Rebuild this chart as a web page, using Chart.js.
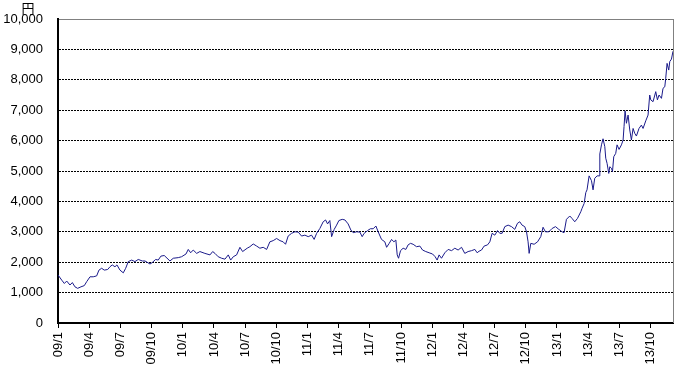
<!DOCTYPE html>
<html>
<head>
<meta charset="utf-8">
<script src="https://cdn.jsdelivr.net/npm/chart.js@4"></script>
<style>
  html, body { margin: 0; padding: 0; background: #fff; overflow: hidden; }
</style>
</head>
<body>
<canvas id="price" width="690" height="370"></canvas>
<script>
// months since 2009/1 (x) and closing price in yen (y)
var months = [0.0, 0.36, 0.61, 0.84, 1.15, 1.38, 1.63, 1.89, 2.21, 2.53, 2.76, 3.08, 3.39, 3.72, 3.94, 4.20, 4.45, 4.78, 5.00, 5.22,
	5.48, 5.67, 5.96, 6.28, 6.51, 6.76, 7.09, 7.40, 7.72, 8.11, 8.37, 8.85, 9.07, 9.39, 9.64, 9.90, 10.22, 10.77, 11.09, 11.57,
	11.89, 12.31, 12.53, 12.76, 13.01, 13.34, 13.65, 14.13, 14.62, 14.88, 15.10, 15.41, 15.74, 16.06, 16.38, 16.61, 16.86, 17.18, 17.50, 17.76,
	18.20, 18.46, 18.78, 19.11, 19.42, 19.74, 20.07, 20.38, 20.70, 21.03, 21.35, 21.66, 21.89, 22.14, 22.47, 22.79, 23.11, 23.43, 23.75, 24.07,
	24.39, 24.64, 24.88, 25.19, 25.51, 25.74, 25.93, 26.15, 26.32, 26.57, 26.80, 27.02, 27.34, 27.60, 27.91, 28.17, 28.39, 28.72, 29.04, 29.26,
	29.45, 29.78, 30.05, 30.32, 30.58, 30.80, 31.12, 31.44, 31.61, 31.86, 32.09, 32.31, 32.50, 32.63, 32.76, 32.95, 33.20, 33.46, 33.68, 33.91,
	34.16, 34.49, 34.81, 35.07, 35.38, 35.70, 36.03, 36.28, 36.47, 36.66, 36.89, 37.21, 37.53, 37.86, 38.17, 38.49, 38.82, 39.13, 39.45, 39.78,
	40.10, 40.32, 40.50, 40.74, 40.99, 41.32, 41.54, 41.76, 42.02, 42.28, 42.50, 42.72, 42.98, 43.30, 43.63, 43.94, 44.20, 44.42, 44.64, 44.90,
	45.07, 45.22, 45.32, 45.48, 45.80, 46.13, 46.44, 46.66, 46.89, 47.21, 47.53, 47.86, 48.17, 48.49, 48.68, 48.91, 49.23, 49.45, 49.71, 49.97,
	50.29, 50.41, 50.61, 50.77, 50.89, 51.09, 51.32, 51.47, 51.63, 51.86, 52.05, 52.12, 52.28, 52.43, 52.60, 52.69, 52.82, 52.98, 53.08, 53.24,
	53.34, 53.46, 53.65, 53.78, 53.97, 54.20, 54.36, 54.45, 54.55, 54.68, 54.84, 55.00, 55.16, 55.32, 55.48, 55.64, 55.89, 56.12, 56.28, 56.54,
	56.76, 56.92, 57.02, 57.24, 57.50, 57.66, 57.82, 58.05, 58.20, 58.37, 58.46, 58.59, 58.75, 58.85, 59.01, 59.16];

var prices = [1580, 1410, 1300, 1380, 1250, 1330, 1190, 1140, 1190, 1230, 1360, 1520, 1520, 1550, 1740, 1800, 1740, 1760, 1850, 1910,
	1850, 1910, 1740, 1650, 1800, 2020, 2070, 2020, 2090, 2040, 2040, 1940, 1990, 2090, 2070, 2200, 2220, 2040, 2130, 2150,
	2180, 2270, 2420, 2310, 2400, 2290, 2350, 2290, 2240, 2350, 2290, 2180, 2130, 2100, 2240, 2070, 2180, 2240, 2490, 2350,
	2460, 2510, 2600, 2530, 2460, 2490, 2420, 2670, 2710, 2780, 2710, 2670, 2590, 2860, 2950, 3000, 2990, 2860, 2890, 2840,
	2890, 2750, 2950, 3110, 3330, 3390, 3260, 3370, 2840, 3080, 3220, 3370, 3410, 3390, 3260, 3060, 2970, 3000, 2990, 2840,
	2950, 3040, 3100, 3100, 3190, 3000, 2750, 2670, 2490, 2620, 2750, 2670, 2730, 2240, 2130, 2380, 2460, 2420, 2570, 2620,
	2590, 2510, 2530, 2400, 2350, 2310, 2270, 2180, 2070, 2240, 2130, 2310, 2420, 2380, 2460, 2400, 2490, 2290, 2350, 2380,
	2420, 2310, 2360, 2400, 2530, 2570, 2670, 2950, 2890, 3040, 2950, 2950, 3170, 3220, 3170, 3080, 3280, 3330, 3220, 3170,
	3000, 2670, 2290, 2620, 2590, 2670, 2840, 3150, 3000, 3000, 3110, 3170, 3080, 3000, 2970, 3410, 3520, 3440, 3330, 3440,
	3660, 3770, 3930, 4290, 4380, 4840, 4680, 4380, 4760, 4840, 4840, 5560, 5860, 6060, 5800, 5420, 5250, 4920, 5140, 5090,
	4980, 5470, 5580, 5860, 5710, 5860, 6020, 6460, 6980, 6570, 6840, 6350, 6020, 6400, 6240, 6150, 6400, 6510, 6400, 6650,
	6840, 7500, 7340, 7280, 7610, 7340, 7500, 7390, 7720, 7770, 8050, 8540, 8320, 8600, 8680, 8940];

var tickMonths = [0, 3, 6, 9, 12, 15, 18, 21, 24, 27, 30, 33, 36, 39, 42, 45, 48, 51, 54, 57];
var tickLabels = ['09/1', '09/4', '09/7', '09/10', '10/1', '10/4', '10/7', '10/10', '11/1', '11/4',
	'11/7', '11/10', '12/1', '12/4', '12/7', '12/10', '13/1', '13/4', '13/7', '13/10'];

var yMax = 10000;
var yStep = 1000;
var unitLabel = '円';

var fontFamily = "'Liberation Sans', 'Noto Sans CJK JP', sans-serif";

// unit label and right border
var extras = {
	id: 'extras',
	afterDraw: function(chart) {
		var ctx = chart.ctx;
		var area = chart.chartArea;
		ctx.save();
		ctx.strokeStyle = '#808080';
		ctx.lineWidth = 1;
		ctx.beginPath();
		ctx.moveTo(area.right + 0.5, area.top);
		ctx.lineTo(area.right + 0.5, area.bottom);
		ctx.stroke();
		ctx.fillStyle = '#000';
		ctx.font = '13px ' + fontFamily;
		ctx.textAlign = 'center';
		ctx.textBaseline = 'bottom';
		ctx.fillText(unitLabel, area.left - 30, area.top - 3);
		ctx.restore();
	}
};

var data = [];
for (var i = 0; i < months.length; i++) {
	data.push({x: months[i], y: prices[i]});
}

var ctx = document.getElementById('price').getContext('2d');
var chart = new Chart(ctx, {
	type: 'line',
	data: {
		datasets: [{
			data: data,
			borderColor: '#1a1a8a',
			borderWidth: 1,
			pointRadius: 0,
			tension: 0,
			fill: false
		}]
	},
	options: {
		responsive: false,
		animation: false,
		devicePixelRatio: 1,
		layout: { padding: { top: 19, right: 17, left: 0, bottom: 0 } },
		plugins: {
			legend: { display: false },
			tooltip: { enabled: false }
		},
		scales: {
			x: {
				type: 'linear',
				min: 0,
				max: 59.16,
				afterBuildTicks: function(scale) {
					scale.ticks = tickMonths.map(function(v) { return {value: v}; });
				},
				afterFit: function(scale) {
					scale.height = 47;
					scale.paddingLeft = 0;
					scale.paddingRight = 0;
				},
				ticks: {
					autoSkip: false,
					minRotation: 90,
					maxRotation: 90,
					padding: 4,
					color: '#000',
					font: { family: fontFamily, size: 13 },
					callback: function(v) {
						var idx = tickMonths.indexOf(v);
						return idx >= 0 ? tickLabels[idx] : '';
					}
				},
				grid: {
					drawOnChartArea: false,
					drawTicks: true,
					tickLength: 5,
					color: '#000'
				},
				border: { color: '#000', width: 2 }
			},
			y: {
				min: 0,
				max: yMax,
				afterFit: function(scale) {
					scale.width = 58;
					scale.paddingTop = 0;
					scale.paddingBottom = 0;
				},
				ticks: {
					stepSize: yStep,
					padding: 15,
					color: '#000',
					font: { family: fontFamily, size: 13 },
					callback: function(v) { return v.toLocaleString('en-US'); }
				},
				grid: {
					drawTicks: false,
					lineWidth: 1,
					color: function(c) {
						return c.tick && c.tick.value === yMax ? '#808080' : '#000';
					}
				},
				border: {
					color: '#000',
					width: 2,
					dash: function(c) {
						return c.tick && c.tick.value === yMax ? [] : [2, 1];
					}
				}
			}
		}
	},
	plugins: [extras]
});
</script>
</body>
</html>
